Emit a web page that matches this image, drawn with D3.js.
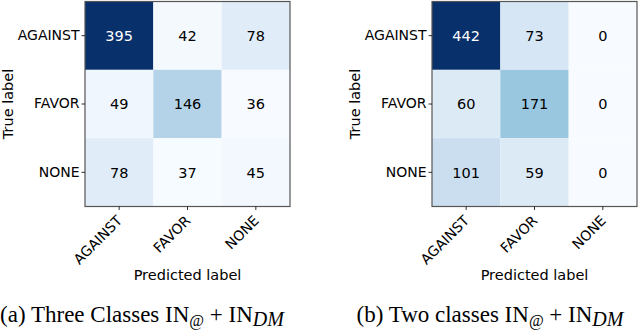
<!DOCTYPE html>
<html><head><meta charset="utf-8">
<script src="https://cdn.jsdelivr.net/npm/d3@7"></script>
<style>body{margin:0;background:#fff}svg{display:block}</style>
</head><body>
<svg id="c" width="640" height="330"></svg>
<script>
const classes = ["AGAINST", "FAVOR", "NONE"];
const matrixA = [[395, 42, 78], [49, 146, 36], [78, 37, 45]];
const matrixB = [[442, 73, 0], [60, 171, 0], [101, 59, 0]];
const xTitle = "Predicted label";
const yTitle = "True label";
const captionA = {pre: "(a) Three Classes IN", sub1: "@", mid: " + IN", sub2: "DM"};
const captionB = {pre: "(b) Two classes IN", sub1: "@", mid: " + IN", sub2: "DM"};
const bluesStops = ["#f7fbff","#deebf7","#c6dbef","#9ecae1","#6baed6","#4292c6","#2171b5","#08519c","#08306b"];

const svg = d3.select("#c");
const sans = "DejaVu Sans, sans-serif";

function panel(m, x0, caption, capCenter) {
  const size = 205, y0 = 1.5;
  const g = svg.append("g");
  const x = d3.scaleBand().domain(classes).range([x0, x0 + size]);
  const y = d3.scaleBand().domain(classes).range([y0, y0 + size]);
  const flat = m.flat();
  const lo = d3.min(flat), hi = d3.max(flat);
  const color = d3.scaleLinear()
    .domain(bluesStops.map((_, i) => lo + (hi - lo) * i / (bluesStops.length - 1)))
    .range(bluesStops).interpolate(d3.interpolateRgb);
  const cells = [];
  m.forEach((row, i) => row.forEach((v, j) => cells.push({r: classes[i], c: classes[j], v})));
  g.selectAll("rect.cell").data(cells).join("rect")
    .attr("x", d => x(d.c)).attr("y", d => y(d.r))
    .attr("width", x.bandwidth()).attr("height", y.bandwidth())
    .attr("fill", d => color(d.v));
  g.selectAll("text.val").data(cells).join("text")
    .attr("x", d => x(d.c) + x.bandwidth() / 2).attr("y", d => y(d.r) + y.bandwidth() / 2)
    .attr("text-anchor", "middle").attr("dy", "0.36em")
    .attr("font-family", sans).attr("font-size", 14.5)
    .attr("fill", d => d.v > (hi + lo) / 2 ? "#fff" : "#000")
    .text(d => d.v);
  g.append("rect").attr("x", x0).attr("y", y0).attr("width", size).attr("height", size)
    .attr("fill", "none").attr("stroke", "#555").attr("stroke-width", 1.2);
  // y axis
  const ya = g.append("g").attr("transform", `translate(${x0},0)`)
    .call(d3.axisLeft(y).tickSize(3.5).tickPadding(2));
  ya.select(".domain").remove();
  ya.selectAll("text").attr("font-family", sans).attr("font-size", 14).attr("fill", "#000");
  ya.selectAll("line").attr("stroke", "#000").attr("stroke-width", 0.8);
  // x axis
  const xa = g.append("g").attr("transform", `translate(0,${y0 + size})`)
    .call(d3.axisBottom(x).tickSize(3.5).tickPadding(2));
  xa.select(".domain").remove();
  xa.selectAll("line").attr("stroke", "#000").attr("stroke-width", 0.8);
  xa.selectAll("text").attr("font-family", sans).attr("font-size", 14).attr("fill", "#000")
    .attr("text-anchor", "end").attr("y", 0).attr("dy", 0)
    .attr("transform", "translate(4,15) rotate(-45)");
  g.append("text").attr("x", x0 + size / 2).attr("y", 279.5).attr("text-anchor", "middle")
    .attr("font-family", sans).attr("font-size", 14.5).text(xTitle);
  g.append("text").attr("transform", `translate(${x0 - 72},${y0 + size / 2}) rotate(-90)`)
    .attr("text-anchor", "middle")
    .attr("font-family", sans).attr("font-size", 14.5).text(yTitle);
  const cap = g.append("text").attr("x", capCenter).attr("y", 322).attr("text-anchor", "middle")
    .attr("font-family", "Liberation Serif, serif").attr("font-size", 23);
  cap.append("tspan").text(caption.pre);
  cap.append("tspan").attr("dy", 4).attr("font-size", 16).text(caption.sub1);
  cap.append("tspan").attr("dy", -4).text(caption.mid);
  cap.append("tspan").attr("dy", 4).attr("font-size", 20).attr("font-style", "italic").text(caption.sub2);
}

panel(matrixA, 85, captionA, 142);
panel(matrixB, 432, captionB, 490);
</script>
</body></html>
